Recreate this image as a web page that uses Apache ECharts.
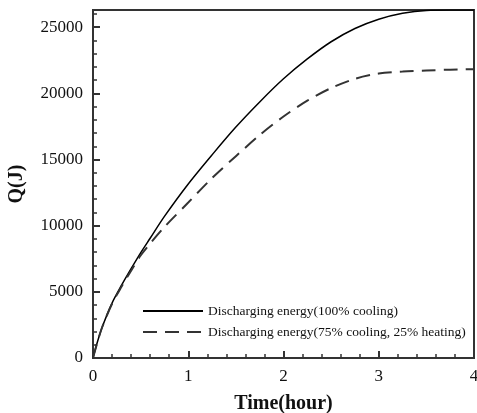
<!DOCTYPE html>
<html><head><meta charset="utf-8">
<script src="https://cdn.jsdelivr.net/npm/echarts@6/dist/echarts.min.js"></script>
<style>html,body{margin:0;padding:0;background:#fff}#c{width:477px;height:413px}</style>
</head><body><div id="c"></div>
<script>
const times = [0,0.05,0.1,0.2,0.3,0.4,0.5,0.6,0.75,1.0,1.25,1.5,1.75,2.0,2.25,2.5,2.75,3.0,3.25,3.5,3.75,4.0];
const solidQ = [0,1300,2400,4150,5500,6750,7950,9050,10700,13150,15350,17450,19350,21100,22600,23900,24900,25600,26050,26270,26300,26300];
const dashedQ = [0,1300,2400,4100,5400,6600,7750,8650,9900,11750,13600,15250,16850,18250,19450,20400,21100,21500,21650,21730,21790,21830];
const seriesNames = ['Discharging energy(100% cooling)','Discharging energy(75% cooling, 25% heating)'];
const xName = 'Time(hour)', yName = 'Q(J)';

const font = 'Liberation Serif, Times New Roman, serif';
const chart = echarts.init(document.getElementById('c'));
const pair = arr => times.map((t,i)=>[t,arr[i]]);
chart.setOption({
  animation:false,
  grid:{left:93,right:3,top:10,bottom:55,outerBoundsMode:'none',containLabel:false,show:true,borderColor:'#333',borderWidth:2},
  legend:{orient:'vertical',left:137,top:299,itemWidth:60,itemHeight:10,itemGap:7,
    itemStyle:{opacity:0},
    textStyle:{fontFamily:font,fontSize:13.5,color:'#111'},
    data:seriesNames},
  xAxis:{type:'value',min:0,max:4,interval:1,name:xName,nameLocation:'middle',nameGap:36,
    nameTextStyle:{fontFamily:font,fontSize:20,fontWeight:'bold',color:'#111'},
    axisLine:{lineStyle:{color:'#333',width:2}},
    axisTick:{inside:true,length:7,lineStyle:{color:'#333',width:2}},
    minorTick:{show:true,splitNumber:5,length:4,lineStyle:{color:'#333',width:1.5}},
    splitLine:{show:false},
    axisLabel:{fontFamily:font,fontSize:17,color:'#111',margin:10,formatter:v=>String(v)}},
  yAxis:{type:'value',min:0,max:26300,interval:5000,name:yName,nameLocation:'middle',nameGap:66,
    nameTextStyle:{fontFamily:font,fontSize:20,fontWeight:'bold',color:'#111'},
    axisLine:{lineStyle:{color:'#333',width:2}},
    axisTick:{inside:true,length:7,lineStyle:{color:'#333',width:2}},
    minorTick:{show:true,splitNumber:5,length:4,lineStyle:{color:'#333',width:1.5}},
    splitLine:{show:false},
    axisLabel:{fontFamily:font,fontSize:17,color:'#111',margin:10,showMaxLabel:false,formatter:v=>String(v)}},
  series:[
    {name:seriesNames[0],type:'line',data:pair(solidQ),smooth:0.3,symbol:'none',
     lineStyle:{color:'#000',width:1.5},itemStyle:{color:'#000'}},
    {name:seriesNames[1],type:'line',data:pair(dashedQ),smooth:0.3,symbol:'none',
     lineStyle:{color:'#333',width:2,type:[14,8]},itemStyle:{color:'#333'}}
  ]
});
</script></body></html>
